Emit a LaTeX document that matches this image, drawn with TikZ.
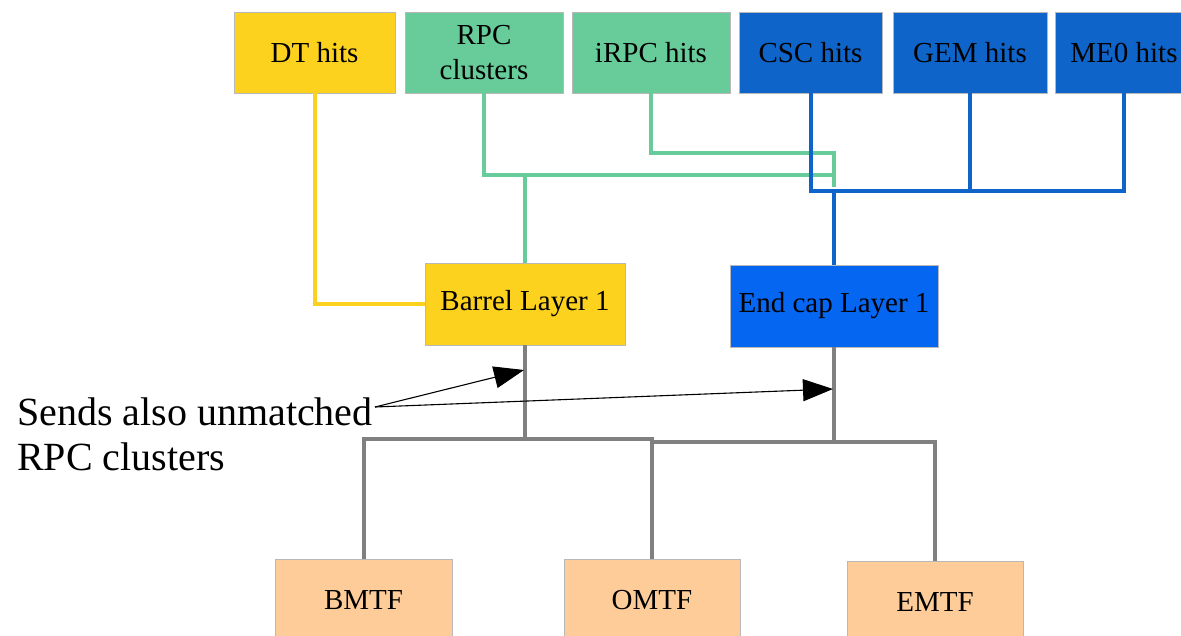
\documentclass[tikz,border=0pt]{standalone}
\usepackage{fontspec}
\setmainfont{Liberation Serif}
\newfontfamily\labelfont{Liberation Serif}
\usetikzlibrary{arrows.meta}

\definecolor{dtyellow}{HTML}{FDD21F}
\definecolor{rpcgreen}{HTML}{68CC9A}
\definecolor{cscblue}{HTML}{0E64C8}
\definecolor{endblue}{HTML}{0566F2}
\definecolor{tfpeach}{HTML}{FDCC99}
\definecolor{linkgray}{HTML}{808080}

\begin{document}
\begin{tikzpicture}[x=1pt, y=-1pt,
  box/.style={draw=black!28, line width=0.8pt, inner sep=0pt,
    minimum height=81pt, align=center,
    font=\labelfont\fontsize{29}{35}\selectfont},
  wire/.style={line width=4pt},
  pointer/.style={line width=1.1pt, black,
    -{Triangle[length=30pt, width=22pt]}},
]
\useasboundingbox (0,0) rectangle (1181,636);
\clip (0,0) rectangle (1181,636);

% detector inputs
\node[box, fill=dtyellow, minimum width=161pt] (dt)   at (314.5,52.5) {DT hits};
\node[box, fill=rpcgreen, minimum width=158pt] (rpc)  at (484,52.5)   {RPC\\clusters};
\node[box, fill=rpcgreen, minimum width=158pt] (irpc) at (651,52.5)   {iRPC hits};
\node[box, fill=cscblue,  minimum width=143pt] (csc)  at (810.5,52.5) {CSC hits};
\node[box, fill=cscblue,  minimum width=154pt] (gem)  at (970,52.5)   {GEM hits};
\node[box, fill=cscblue,  minimum width=138pt] (me0)  at (1124,52.5)  {ME0 hits};

% layer 1 processors
\node[box, fill=dtyellow, minimum width=200pt, minimum height=82pt] (barrel) at (525,304) {Barrel Layer 1};
\node[box, fill=endblue,  minimum width=208pt, minimum height=82pt] (endcap) at (834,306) {End cap Layer 1};

% track finders
\node[box, fill=tfpeach, minimum width=177pt, minimum height=82pt] (bmtf) at (363.5,600) {BMTF};
\node[box, fill=tfpeach, minimum width=176pt, minimum height=82pt] (omtf) at (652,600)   {OMTF};
\node[box, fill=tfpeach, minimum width=176pt, minimum height=82pt] (emtf) at (935,602)   {EMTF};

% bus junctions
\coordinate (rpcbus)  at (834,175);
\coordinate (irpcend) at (834,187);
\coordinate (barreltap) at (525,175);
\coordinate (endbus)  at (834,191);
\coordinate (bjoin)   at (525,439);
\coordinate (ejoin)   at (834,442);

% DT to barrel
\draw[wire, dtyellow] (dt.south) |- (barrel.west);

% RPC and iRPC links
\draw[wire, rpcgreen] (rpc.south) |- (rpcbus);
\draw[wire, rpcgreen] (irpc.south) -- ++(0,60) -| (irpcend);
\draw[wire, rpcgreen] (barreltap) -- (barrel.north);

% CSC, GEM, ME0 links
\draw[wire, cscblue] (csc.south) |- (me0.south |- endbus) -- (me0.south);
\draw[wire, cscblue] (gem.south) -- (gem.south |- endbus);
\draw[wire, cscblue] (endbus) -- (endcap.north);

% layer 1 outputs to track finders
\draw[wire, linkgray] (barrel.south) -- (bjoin);
\draw[wire, linkgray] (bmtf.north) |- (omtf.north |- bjoin) -- (omtf.north);
\draw[wire, linkgray] (omtf.north |- ejoin) -| (emtf.north);
\draw[wire, linkgray] (endcap.south) -- (ejoin);

% annotation
\node[anchor=north west, inner sep=0pt, align=left,
  font=\labelfont\fontsize{40}{45}\selectfont] (note) at (17,398)
  {Sends also unmatched\\RPC clusters};
\coordinate (notetip) at (375,407);
\coordinate (barrelmark) at (524,370);
\coordinate (endcapmark) at (833,389);
\draw[pointer] (notetip) -- (barrelmark);
\draw[pointer] (notetip) -- (endcapmark);
\end{tikzpicture}
\end{document}
